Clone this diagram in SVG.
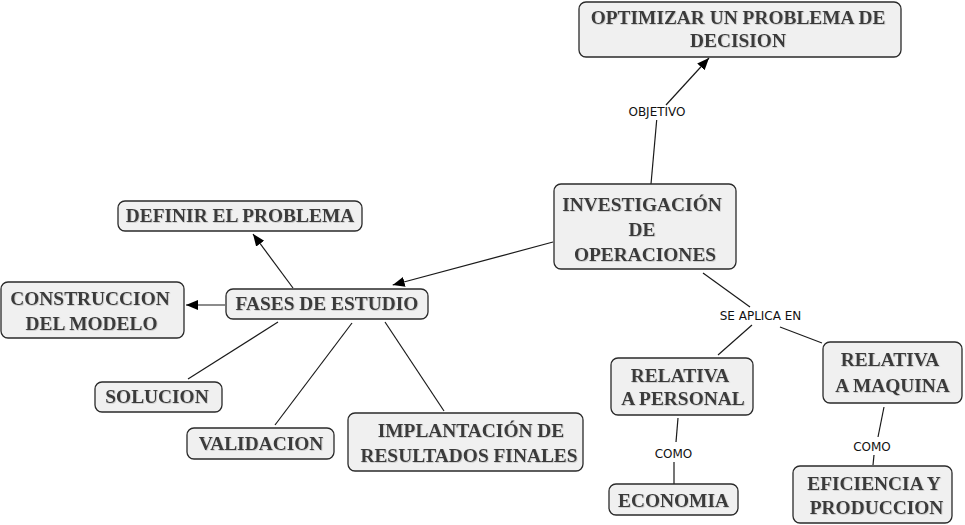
<svg xmlns="http://www.w3.org/2000/svg" width="965" height="525" viewBox="0 0 965 525">
<style>
.box{fill:#f0f0f0;stroke:#2a2a2a;stroke-width:1.3}
.t{font-family:"Liberation Serif","Times New Roman",serif;font-weight:bold;font-size:19.4px;fill:#3a3a3a;text-anchor:middle;filter:url(#sh)}
.lbl{font-family:"DejaVu Sans",Verdana,sans-serif;font-size:12px;fill:#111;text-anchor:middle}
.c{stroke:#1a1a1a;stroke-width:1.2;fill:none}
.a{marker-end:url(#ah)}
</style>
<defs>
<marker id="ah" markerUnits="userSpaceOnUse" markerWidth="13" markerHeight="11" refX="12" refY="5" orient="auto">
<path d="M0,0 L12,5 L0,10 z" fill="#000"/>
</marker>
<filter id="sh" x="-5%" y="-20%" width="110%" height="140%">
<feDropShadow dx="0.7" dy="0.7" stdDeviation="0.4" flood-color="#a0a0a0" flood-opacity="0.6"/>
</filter>
</defs>
<rect width="965" height="525" fill="#fff"/>
<g id="connectors">
<line class="c" x1="651" y1="184" x2="656.7" y2="120"/>
<line class="c a" x1="666" y1="105" x2="709" y2="58"/>
<line class="c a" x1="553" y1="242" x2="392.7" y2="285"/>
<line class="c a" x1="293" y1="288" x2="253" y2="234"/>
<line class="c a" x1="225" y1="305" x2="186" y2="305"/>
<line class="c" x1="278" y1="322" x2="188" y2="379"/>
<line class="c" x1="352" y1="323" x2="275" y2="425"/>
<line class="c" x1="385" y1="322" x2="444" y2="411"/>
<line class="c" x1="703" y1="273" x2="750" y2="307"/>
<line class="c" x1="752" y1="325" x2="718" y2="355"/>
<line class="c" x1="780" y1="327" x2="822" y2="343"/>
<line class="c" x1="678" y1="418" x2="676" y2="442"/>
<line class="c" x1="674" y1="462" x2="674" y2="484"/>
<line class="c" x1="884" y1="407" x2="878" y2="437"/>
<line class="c" x1="874" y1="455" x2="873" y2="465"/>
<text class="lbl" x="657" y="116">OBJETIVO</text>
<text class="lbl" x="760.5" y="320">SE APLICA EN</text>
<text class="lbl" x="673.5" y="457.5">COMO</text>
<text class="lbl" x="872" y="450.5">COMO</text>
</g>
<g id="optimizar">
<rect class="box" x="579" y="2" width="322" height="55" rx="7"/>
<text class="t" x="738" y="24">OPTIMIZAR UN PROBLEMA DE</text>
<text class="t" x="738" y="47">DECISION</text>
</g>
<g id="investigacion">
<rect class="box" x="554" y="184" width="182" height="85" rx="7"/>
<text class="t" x="642" y="211">INVESTIGACIÓN</text>
<text class="t" x="642" y="236">DE</text>
<text class="t" x="645" y="261">OPERACIONES</text>
</g>
<g id="definir">
<rect class="box" x="118" y="201" width="244" height="30" rx="7"/>
<text class="t" x="240" y="222">DEFINIR EL PROBLEMA</text>
</g>
<g id="construccion">
<rect class="box" x="1" y="282" width="183" height="56" rx="7"/>
<text class="t" x="90" y="305">CONSTRUCCION</text>
<text class="t" x="91.5" y="329.5">DEL MODELO</text>
</g>
<g id="fases">
<rect class="box" x="226" y="289" width="202" height="30" rx="7"/>
<text class="t" x="327" y="310">FASES DE ESTUDIO</text>
</g>
<g id="solucion">
<rect class="box" x="95" y="382" width="127" height="30" rx="7"/>
<text class="t" x="157" y="403">SOLUCION</text>
</g>
<g id="validacion">
<rect class="box" x="187" y="428" width="147" height="31" rx="7"/>
<text class="t" x="261" y="450">VALIDACION</text>
</g>
<g id="implantacion">
<rect class="box" x="348" y="413" width="235" height="58" rx="7"/>
<text class="t" x="471" y="437">IMPLANTACIÓN DE</text>
<text class="t" x="469" y="462">RESULTADOS FINALES</text>
</g>
<g id="personal">
<rect class="box" x="611" y="358" width="142" height="57" rx="7"/>
<text class="t" x="680" y="382">RELATIVA</text>
<text class="t" x="683" y="405">A PERSONAL</text>
</g>
<g id="maquina">
<rect class="box" x="823" y="342" width="139" height="61" rx="7"/>
<text class="t" x="890" y="366">RELATIVA</text>
<text class="t" x="892.5" y="392">A MAQUINA</text>
</g>
<g id="economia">
<rect class="box" x="609" y="484" width="129" height="31" rx="7"/>
<text class="t" x="673.5" y="507">ECONOMIA</text>
</g>
<g id="eficiencia">
<rect class="box" x="793" y="466" width="159" height="57" rx="7"/>
<text class="t" x="874" y="490">EFICIENCIA Y</text>
<text class="t" x="876.5" y="513.5">PRODUCCION</text>
</g>
</svg>
